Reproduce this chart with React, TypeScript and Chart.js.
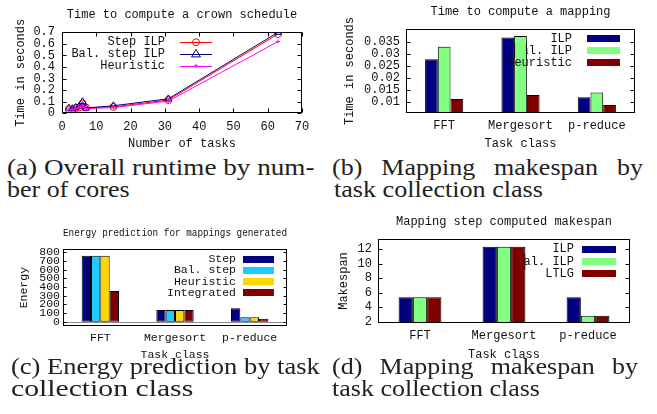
import React, { useEffect, useLayoutEffect, useRef } from "react";
import { Chart, registerables } from "chart.js";

Chart.register(...registerables);

const MONO = '"Liberation Mono", "Courier New", monospace';
const SERIF = '"Liberation Serif", "Times New Roman", serif';
const INK = "#111";

// ---- (a) Time to compute a crown schedule
const taskCounts = [2, 3, 4, 5, 6, 7, 15, 31, 63];
const stepIlpTimes = [0.035, 0.02, 0.045, 0.05, 0.085, 0.05, 0.055, 0.115, 0.685];
const balStepIlpTimes = [0.045, 0.04, 0.05, 0.06, 0.1, 0.045, 0.065, 0.125, 0.7];
const heuristicTimes = [0.035, 0.03, 0.04, 0.045, 0.07, 0.04, 0.05, 0.105, 0.62];
const runtimeXTicks = [0, 10, 20, 30, 40, 50, 60, 70];
const runtimeYTicks = [0, 0.1, 0.2, 0.3, 0.4, 0.5, 0.6, 0.7];

// ---- (b) Time to compute a mapping
const taskClasses = ["FFT", "Mergesort", "p-reduce"];
const mapTimeIlp = [0.0277, 0.0368, 0.0118];
const mapTimeBalIlp = [0.0329, 0.0374, 0.0138];
const mapTimeHeuristic = [0.0111, 0.0128, 0.0086];
const mapTimeTicks = [0.01, 0.015, 0.02, 0.025, 0.03, 0.035];

// ---- (c) Energy prediction for mappings generated
const energyStep = [761, 135, 154];
const energyBalStep = [761, 135, 51];
const energyHeuristic = [761, 135, 51];
const energyIntegrated = [354, 135, 35];
const energyTicks = [0, 100, 200, 300, 400, 500, 600, 700, 800];

// ---- (d) Mapping step computed makespan
const makespanIlp = [5.37, 12.36, 5.37];
const makespanBalIlp = [5.37, 12.36, 2.83];
const makespanLtlg = [5.37, 12.36, 2.83];
const makespanTicks = [2, 4, 6, 8, 10, 12];

const NAVY = "#000080";
const LGREEN = "#80ff80";
const DRED = "#800000";
const CYAN = "#1ecbff";
const GOLD = "#ffd700";

const mono = (size: number) => ({ family: MONO, size, lineHeight: 1.2, weight: "normal" });

function drawKeyEntry(chart: any, opts: any, i: number) {
  const { ctx, chartArea: a } = chart;
  const ds = chart.data.datasets[i];
  const y = a.top + opts.firstRow + i * opts.rowGap;
  const tx = a.right - opts.textRight;
  ctx.save();
  ctx.font = `${opts.fontSize}px ${MONO}`;
  ctx.textAlign = "right";
  ctx.textBaseline = "middle";
  ctx.fillStyle = INK;
  ctx.fillText(ds.label, tx, y);
  const tw = ctx.measureText(ds.label).width;
  const x0 = a.right - opts.swatchLeft;
  const x1 = a.right - opts.swatchRight;
  if (opts.kind === "bar") {
    const h = opts.swatchH;
    ctx.fillStyle = ds.backgroundColor;
    ctx.fillRect(x0, Math.round(y - h / 2), x1 - x0, h);
  } else {
    ctx.strokeStyle = ds.borderColor;
    ctx.lineWidth = ds.borderWidth;
    ctx.beginPath();
    ctx.moveTo(x0, Math.round(y) + 0.5);
    ctx.lineTo(x1, Math.round(y) + 0.5);
    ctx.stroke();
    const cx = (x0 + x1) / 2;
    const r = ds.pointRadius;
    ctx.lineWidth = 1;
    ctx.beginPath();
    if (ds.pointStyle === "circle") {
      ctx.arc(cx, y, r, 0, Math.PI * 2);
    } else if (ds.pointStyle === "triangle") {
      ctx.moveTo(cx, y - r * 1.2);
      ctx.lineTo(cx + r * 1.1, y + r * 0.7);
      ctx.lineTo(cx - r * 1.1, y + r * 0.7);
      ctx.closePath();
    } else {
      ctx.moveTo(cx - r, y);
      ctx.lineTo(cx + r, y);
      ctx.moveTo(cx, y - r);
      ctx.lineTo(cx, y + r);
    }
    ctx.stroke();
  }
  ctx.restore();
  return { x: tx - tw - 1, y: y - opts.fontSize * 0.7, w: tw + 2, h: opts.fontSize * 1.4 };
}

// gnuplot-style key: entry i lies under the bars of dataset i and of every later dataset
const keyPlugin = {
  id: "gnuKey",
  beforeDatasetsDraw(chart: any, _args: any, opts: any) {
    if (!opts || !opts.show || opts.kind === "bar") return;
    chart.data.datasets.forEach((_d: any, i: number) => drawKeyEntry(chart, opts, i));
  },
  afterDatasetsDraw(chart: any, _args: any, opts: any) {
    if (!opts || !opts.show || opts.kind !== "bar") return;
    const { ctx, chartArea: a } = chart;
    const n = chart.data.datasets.length;
    for (let i = 0; i < n; i++) {
      const box = drawKeyEntry(chart, opts, i);
      ctx.save();
      ctx.beginPath();
      ctx.rect(Math.max(box.x, a.left), box.y, box.w, box.h);
      ctx.clip();
      for (let j = i; j < n; j++) {
        const meta = chart.getDatasetMeta(j);
        meta.data.forEach((el: any) => el.draw(ctx, a));
      }
      ctx.restore();
    }
  },
};

const framePlugin = {
  id: "gnuFrame",
  beforeDatasetsDraw(chart: any, _args: any, opts: any) {
    if (!opts || !opts.zeroLine) return;
    const { ctx, chartArea: a } = chart;
    const y = Math.round(chart.scales.y.getPixelForValue(0)) + 0.5;
    ctx.save();
    ctx.strokeStyle = "#8a8a8a";
    ctx.lineWidth = 1;
    ctx.beginPath();
    ctx.moveTo(a.left, y);
    ctx.lineTo(a.right, y);
    ctx.stroke();
    ctx.restore();
  },
  afterDatasetsDraw(chart: any, _args: any, opts: any) {
    if (!opts || !opts.show) return;
    const { ctx, chartArea: a, scales } = chart;
    const L = opts.tickLen || 4;
    const l = Math.round(a.left) + 0.5;
    const r = Math.round(a.right) - 0.5;
    const t = Math.round(a.top) + 0.5;
    const b = Math.round(a.bottom) - 0.5;
    ctx.save();
    ctx.strokeStyle = "#000";
    ctx.lineWidth = 1;
    ctx.strokeRect(l, t, r - l, b - t);
    ctx.beginPath();
    scales.y.ticks.forEach((tk: any) => {
      const py = Math.round(scales.y.getPixelForValue(tk.value)) + 0.5;
      if (py < t - 1 || py > b + 1) return;
      ctx.moveTo(l, py);
      ctx.lineTo(l + L, py);
      ctx.moveTo(r, py);
      ctx.lineTo(r - L, py);
    });
    if (opts.xTicks) {
      scales.x.ticks.forEach((tk: any) => {
        const px = Math.round(scales.x.getPixelForValue(tk.value)) + 0.5;
        ctx.moveTo(px, b);
        ctx.lineTo(px, b - L);
        ctx.moveTo(px, t);
        ctx.lineTo(px, t + L);
      });
    }
    ctx.stroke();
    ctx.restore();
  },
};

function yAxis(p: {
  min: number; max: number; ticks: number[]; width: number; pad: number;
  title: string; titlePad: number; fmt: (v: number) => string; size?: number; titleSize?: number;
}) {
  return {
    type: "linear",
    min: p.min,
    max: p.max,
    grid: { display: false, drawTicks: false },
    border: { display: false },
    afterBuildTicks: (s: any) => {
      s.ticks = p.ticks.map((v) => ({ value: v }));
    },
    afterFit: (s: any) => {
      s.width = p.width;
    },
    ticks: {
      padding: p.pad,
      color: INK,
      autoSkip: false,
      font: mono(p.size || 12),
      callback: (v: any) => p.fmt(Number(v)),
    },
    title: {
      display: true,
      text: p.title,
      color: INK,
      font: mono(p.titleSize || 12),
      padding: { top: p.titlePad, bottom: 0 },
    },
  };
}

function xCategory(p: { height: number; pad: number; titlePad: number; size?: number }) {
  return {
    type: "category",
    offset: true,
    grid: { display: false, drawTicks: false },
    border: { display: false },
    afterFit: (s: any) => {
      s.height = p.height;
    },
    ticks: { padding: p.pad, color: INK, maxRotation: 0, font: mono(p.size || 12) },
    title: {
      display: true,
      text: "Task class",
      color: INK,
      font: mono(p.size || 12),
      padding: { top: 0, bottom: p.titlePad },
    },
  };
}

function barSet(label: string, data: number[], color: string, catPct: number) {
  return {
    label,
    data,
    backgroundColor: color,
    borderColor: "#000",
    borderWidth: 1,
    borderSkipped: false,
    categoryPercentage: catPct,
    barPercentage: 1,
    clip: 0,
  };
}

const pts = (ys: number[]) => taskCounts.map((x, i) => ({ x, y: ys[i] }));

const configA: any = {
  type: "line",
  data: {
    datasets: [
      { label: "Step ILP", order: 0, data: pts(stepIlpTimes), borderColor: "#ff0000", borderWidth: 1, pointStyle: "circle", pointRadius: 3.5, pointBorderColor: "#ff0000", pointBackgroundColor: "rgba(0,0,0,0)", pointBorderWidth: 1 },
      { label: "Bal. step ILP", order: -1, data: pts(balStepIlpTimes), borderColor: NAVY, borderWidth: 1, pointStyle: "triangle", pointRadius: 4, pointBorderColor: NAVY, pointBackgroundColor: "rgba(0,0,0,0)", pointBorderWidth: 1 },
      { label: "Heuristic", order: -2, data: pts(heuristicTimes), borderColor: "#ff00ff", borderWidth: 1, pointStyle: "cross", pointRadius: 2, pointBorderColor: "#ff00ff", pointBorderWidth: 1 },
    ],
  },
  options: {
    responsive: false,
    animation: false,
    devicePixelRatio: 1,
    layout: { padding: { left: 0, right: 28, top: 0, bottom: 0 } },
    plugins: {
      legend: { display: false },
      tooltip: { enabled: false },
      title: { display: true, fullSize: false, text: "Time to compute a crown schedule", color: INK, font: mono(12), padding: { top: 8, bottom: 9.9 } },
      gnuKey: { show: true, kind: "line", fontSize: 12, firstRow: 10, rowGap: 11.8, textRight: 137, swatchLeft: 122, swatchRight: 90 },
      gnuFrame: { show: true, xTicks: true, tickLen: 4 },
    },
    scales: {
      x: {
        type: "linear",
        min: 0,
        max: 70,
        grid: { display: false, drawTicks: false },
        border: { display: false },
        afterBuildTicks: (s: any) => {
          s.ticks = runtimeXTicks.map((v) => ({ value: v }));
        },
        afterFit: (s: any) => {
          s.height = 41.7;
        },
        ticks: { padding: 6, color: INK, maxRotation: 0, autoSkip: false, font: mono(12), callback: (v: any) => String(v) },
        title: { display: true, text: "Number of tasks", color: INK, font: mono(12), padding: { top: 0, bottom: 3.8 } },
      },
      y: yAxis({ min: 0, max: 0.7, ticks: runtimeYTicks, width: 62, pad: 7, title: "Time in seconds", titlePad: 14, fmt: (v) => (v === 0 ? "0" : v.toFixed(1)) }),
    },
  },
  plugins: [keyPlugin, framePlugin],
};

const configB: any = {
  type: "bar",
  data: {
    labels: taskClasses,
    datasets: [
      barSet("ILP", mapTimeIlp, NAVY, 0.5),
      barSet("Bal. ILP", mapTimeBalIlp, LGREEN, 0.5),
      barSet("Heuristic", mapTimeHeuristic, DRED, 0.5),
    ],
  },
  options: {
    responsive: false,
    animation: false,
    devicePixelRatio: 1,
    layout: { padding: { left: 0, right: 22, top: 0, bottom: 0 } },
    plugins: {
      legend: { display: false },
      tooltip: { enabled: false },
      title: { display: true, fullSize: false, text: "Time to compute a mapping", color: INK, font: mono(12), padding: { top: 5, bottom: 9.9 } },
      gnuKey: { show: true, kind: "bar", fontSize: 12, firstRow: 9.5, rowGap: 12, textRight: 63, swatchLeft: 48, swatchRight: 15, swatchH: 7 },
      gnuFrame: { show: true, xTicks: false, tickLen: 4 },
    },
    scales: {
      x: xCategory({ height: 42.3, pad: 6, titlePad: 3.8 }),
      y: yAxis({ min: 0.0054, max: 0.0402, ticks: mapTimeTicks, width: 76, pad: 6, title: "Time in seconds", titlePad: 12.8, fmt: (v) => String(Number(v.toFixed(3))) }),
    },
  },
  plugins: [keyPlugin, framePlugin],
};

const configC: any = {
  type: "bar",
  data: {
    labels: taskClasses,
    datasets: [
      barSet("Step", energyStep, NAVY, 0.5),
      barSet("Bal. step", energyBalStep, CYAN, 0.5),
      barSet("Heuristic", energyHeuristic, GOLD, 0.5),
      barSet("Integrated", energyIntegrated, DRED, 0.5),
    ],
  },
  options: {
    responsive: false,
    animation: false,
    devicePixelRatio: 1,
    layout: { padding: { left: 0, right: 43, top: 0, bottom: 0 } },
    plugins: {
      legend: { display: false },
      tooltip: { enabled: false },
      title: { display: true, fullSize: false, text: "Energy prediction for mappings generated", color: INK, font: mono(11.5), padding: { top: 14.1, bottom: 9.4 } },
      gnuKey: { show: true, kind: "bar", fontSize: 11.5, firstRow: 10, rowGap: 11.1, textRight: 51, swatchLeft: 44, swatchRight: 13, swatchH: 7 },
      gnuFrame: { show: true, xTicks: false, tickLen: 3, zeroLine: true },
    },
    scales: {
      x: xCategory({ height: 38, pad: 5, titlePad: 2, size: 11.5 }),
      y: yAxis({ min: -50, max: 835, ticks: energyTicks, width: 63, pad: 3, title: "Energy", titlePad: 17, size: 11.5, titleSize: 11.5, fmt: (v) => String(v) }),
    },
  },
  plugins: [keyPlugin, framePlugin],
};

const configD: any = {
  type: "bar",
  data: {
    labels: taskClasses,
    datasets: [
      barSet("ILP", makespanIlp, NAVY, 0.51),
      barSet("Bal. ILP", makespanBalIlp, LGREEN, 0.51),
      barSet("LTLG", makespanLtlg, DRED, 0.51),
    ],
  },
  options: {
    responsive: false,
    animation: false,
    devicePixelRatio: 1,
    layout: { padding: { left: 0, right: 27, top: 0, bottom: 0 } },
    plugins: {
      legend: { display: false },
      tooltip: { enabled: false },
      title: { display: true, fullSize: false, text: "Mapping step computed makespan", color: INK, font: mono(12), padding: { top: 2.8, bottom: 10.1 } },
      gnuKey: { show: true, kind: "bar", fontSize: 12, firstRow: 10, rowGap: 12.3, textRight: 56, swatchLeft: 48, swatchRight: 14, swatchH: 7 },
      gnuFrame: { show: true, xTicks: false, tickLen: 4 },
    },
    scales: {
      x: xCategory({ height: 41.3, pad: 6, titlePad: 1.8 }),
      y: yAxis({ min: 1.86, max: 13.38, ticks: makespanTicks, width: 48, pad: 6, title: "Makespan", titlePad: 6.3, fmt: (v) => String(v) }),
    },
  },
  plugins: [keyPlugin, framePlugin],
};

function ChartCanvas({ config, left, top, width, height }: any) {
  const ref = useRef<HTMLCanvasElement>(null);
  useEffect(() => {
    const chart = new Chart(ref.current as HTMLCanvasElement, config);
    return () => chart.destroy();
  }, [config]);
  return (
    <canvas
      ref={ref}
      width={width}
      height={height}
      style={{ position: "absolute", left, top, width, height, display: "block" }}
    />
  );
}

const CAP_SIZE = 23;
const CAP_STRETCH = 1.13;

// One caption line; "fit" lines are stretched to the measured width, "justify" lines spread their words.
function CapLine({ left, top, width, text, justify }: any) {
  const ref = useRef<HTMLDivElement>(null);
  useLayoutEffect(() => {
    const el = ref.current;
    if (!el || justify) return;
    const natural = el.offsetWidth;
    if (natural > 0) el.style.transform = `scaleX(${width / natural})`;
  }, [width, justify]);
  const base: any = {
    position: "absolute",
    left,
    top,
    fontFamily: SERIF,
    fontSize: CAP_SIZE,
    lineHeight: "22.5px",
    color: "#222",
    transformOrigin: "0 0",
  };
  if (justify) {
    return (
      <div
        style={{
          ...base,
          width: width / CAP_STRETCH,
          textAlign: "justify",
          textAlignLast: "justify",
          transform: `scaleX(${CAP_STRETCH})`,
        }}
      >
        {text}
      </div>
    );
  }
  return (
    <div ref={ref} style={{ ...base, whiteSpace: "nowrap", display: "inline-block" }}>
      {text}
    </div>
  );
}

export default function App() {
  return (
    <div style={{ position: "absolute", left: 0, top: 0, width: 657, height: 414, background: "#fff", overflow: "hidden" }}>
      <ChartCanvas config={configA} left={0} top={0} width={330} height={155} />
      <ChartCanvas config={configB} left={330} top={0} width={327} height={155} />
      <ChartCanvas config={configC} left={0} top={212} width={330} height={152} />
      <ChartCanvas config={configD} left={330} top={212} width={327} height={152} />
      <CapLine left={7} top={156.5} width={308} text="(a) Overall runtime by num-" />
      <CapLine left={7} top={179} width={123} text="ber of cores" />
      <CapLine left={332} top={156.5} width={311} justify text="(b) Mapping makespan by" />
      <CapLine left={334} top={179} width={209} text="task collection class" />
      <CapLine left={11} top={355.5} width={309} text="(c) Energy prediction by task" />
      <CapLine left={11} top={378} width={182} text="collection class" />
      <CapLine left={332} top={355.5} width={306} justify text="(d) Mapping makespan by" />
      <CapLine left={332} top={378} width={208} text="task collection class" />
    </div>
  );
}
